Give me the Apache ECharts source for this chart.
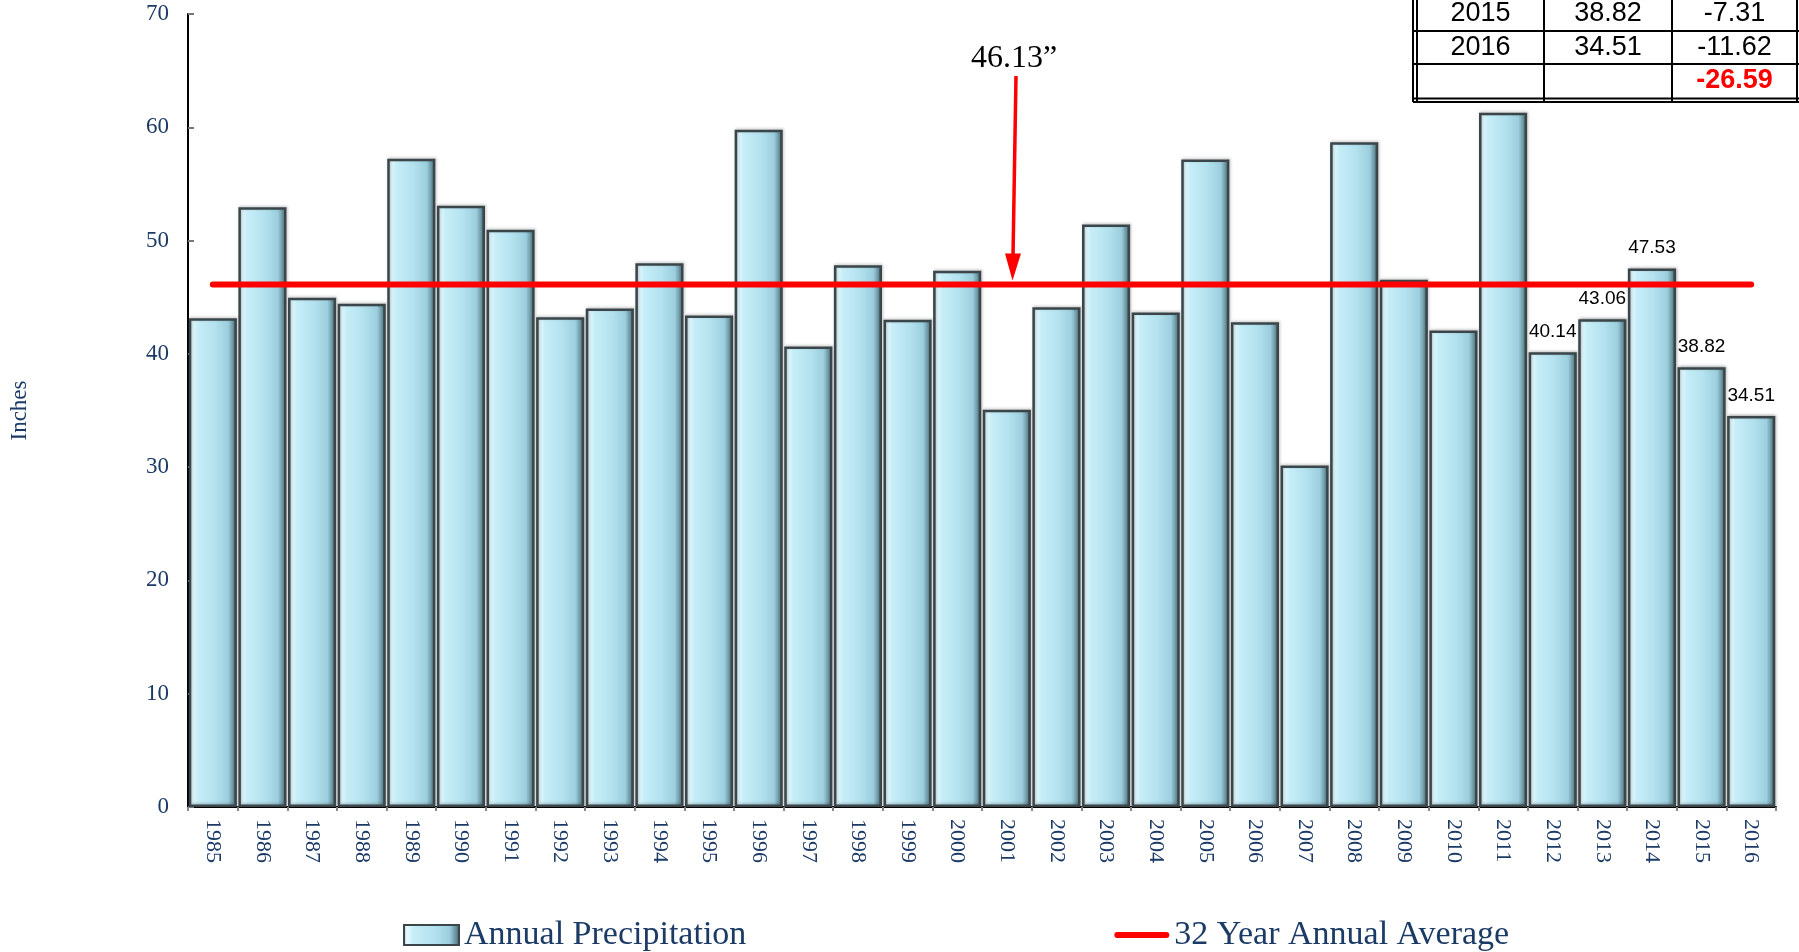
<!DOCTYPE html>
<html>
<head>
<meta charset="utf-8">
<script src="https://cdn.jsdelivr.net/npm/echarts@6/dist/echarts.min.js"></script>
<style>
html,body{margin:0;padding:0;background:#fff;}
#chart{width:1799px;height:952px;}
</style>
</head>
<body>
<div id="chart"></div>
<script>
// ---- data ----
const years = ['1985','1986','1987','1988','1989','1990','1991','1992','1993','1994','1995','1996','1997','1998','1999','2000','2001','2002','2003','2004','2005','2006','2007','2008','2009','2010','2011','2012','2013','2014','2015','2016'];
const precipitation = [43.15,52.95,44.95,44.42,57.22,53.07,50.95,43.24,44.0,48.0,43.39,59.78,40.65,47.83,43.0,47.33,35.07,44.12,51.42,43.65,57.15,42.8,30.15,58.68,46.54,42.07,61.28,40.14,43.06,47.53,38.82,34.51];
const average = 46.13;
const labelledYears = ['2012','2013','2014','2015','2016'];
const yTicks = [0,10,20,30,40,50,60,70];
const seriesNames = ['Annual Precipitation','32 Year Annual Average'];
const annotationText = '46.13\u201d';
const tableYears = ['2015','2016',''];
const tableValues = ['38.82','34.51',''];
const tableDiffs = ['-7.31','-11.62','-26.59'];

const navy = '#1B3A66';
const serif = 'Liberation Serif';

const chart = echarts.init(document.getElementById('chart'), null, {renderer:'canvas'});

const barData = precipitation.map((v,i)=>({
  value: v,
  label: {show: labelledYears.indexOf(years[i]) >= 0}
}));
const avgData = years.map(()=>average);

const option = {
  backgroundColor: '#ffffff',
  animation: false,
  grid: {left: 184, right: 23, top: 14, bottom: 145},
  legend: {
    left: 398, top: 913,
    itemWidth: 55, itemHeight: 20, itemGap: 368,
    data: [
      {name: seriesNames[0], icon: 'rect'},
      {name: seriesNames[1], icon: 'path://M3,0 L52,0 A3,3 0 0 1 52,6 L3,6 A3,3 0 0 1 3,0 Z'}
    ],
    textStyle: {fontFamily: serif, fontSize: 34, color: navy}
  },
  xAxis: {
    type: 'category',
    data: years,
    boundaryGap: true,
    axisLine: {lineStyle: {color: '#000', width: 2}},
    axisTick: {show: true, length: 4, lineStyle: {color: '#888', width: 2}},
    axisLabel: {rotate: -90, margin: 12, fontFamily: serif, fontSize: 22, color: navy}
  },
  yAxis: {
    type: 'value',
    min: yTicks[0], max: yTicks[yTicks.length-1], interval: 10,
    name: 'Inches', nameLocation: 'middle', nameRotate: 90, nameGap: 157,
    nameTextStyle: {fontFamily: serif, fontSize: 23, color: navy},
    splitLine: {show: false},
    axisLine: {show: true, lineStyle: {color: '#000', width: 2}},
    axisTick: {show: true, inside: true, length: 6, lineStyle: {color: '#777', width: 2}},
    axisLabel: {margin: 19, fontFamily: serif, fontSize: 23, color: navy}
  },
  series: [
    {
      name: seriesNames[0],
      type: 'bar',
      data: barData,
      barCategoryGap: '3%',
      itemStyle: {
        color: {type:'linear', x:0, y:0, x2:1, y2:0, colorStops:[
          {offset:0, color:'#8FBFCC'},
          {offset:0.07, color:'#E8FBFF'},
          {offset:0.18, color:'#C6EEF8'},
          {offset:0.55, color:'#B3E1EE'},
          {offset:0.82, color:'#9CCEDD'},
          {offset:0.93, color:'#668F9B'},
          {offset:1, color:'#3F5C66'}
        ]},
        borderColor: '#3A464A',
        borderWidth: 2.5,
        shadowColor: 'rgba(0,0,0,0.25)',
        shadowBlur: 3,
        shadowOffsetX: 1,
        shadowOffsetY: -1
      },
      label: {
        position: 'top', distance: 11,
        fontFamily: 'Liberation Sans', fontSize: 19, color: '#000'
      },
      z: 2
    },
    {
      name: seriesNames[1],
      type: 'line',
      data: avgData,
      symbol: 'none',
      lineStyle: {color: '#FF0000', width: 6, cap: 'round'},
      itemStyle: {color: '#FF0000'},
      z: 5
    }
  ]
};
chart.setOption(option);

// annotation arrow pointing at the average line
const yAvg = chart.convertToPixel({yAxisIndex: 0}, average);
const tip = yAvg - 4;
const graphics = [
  {type:'text', left: 1015 - 44, top: 43, style:{text: annotationText, font: '32px "Liberation Serif"', fill:'#000'}, z: 20},
  {type:'line', shape:{x1:1016, y1:76, x2:1013, y2:tip-24}, style:{stroke:'#FF0000', lineWidth:3.5}, z: 20},
  {type:'polygon', shape:{points:[[1005,tip-27],[1021,tip-27],[1012.5,tip]]}, style:{fill:'#FF0000'}, z: 20}
];

// table in top right
const colX = [1417, 1544, 1672, 1797];
const lineStyle = {stroke:'#000', lineWidth:2};
graphics.push({type:'rect', shape:{x:1413, y:-5, width:386, height:110}, style:{fill:'#fff'}, z: 15});
[1413, 1417, 1544, 1672, 1797].forEach(x=>{
  graphics.push({type:'line', shape:{x1:x, y1:-5, x2:x, y2:102}, style:lineStyle, z: 16});
});
[31, 64, 98.5, 102].forEach(y=>{
  graphics.push({type:'line', shape:{x1:1413, y1:y, x2:1799, y2:y}, style:lineStyle, z: 16});
});
const rowCenters = [14, 47.5, 81];
const cols = [tableYears, tableValues, tableDiffs];
cols.forEach((col, ci)=>{
  col.forEach((txt, ri)=>{
    if (!txt) return;
    const isTotal = ri === col.length - 1;
    graphics.push({
      type:'text',
      x: (colX[ci] + colX[ci+1]) / 2,
      y: rowCenters[ri],
      style:{
        text: txt,
        font: (isTotal ? 'bold ' : '') + '27px "Liberation Sans"',
        fill: isTotal ? '#FF0000' : '#000',
        textAlign:'center', textVerticalAlign:'middle'
      },
      z: 17
    });
  });
});
chart.setOption({graphic: graphics});
</script>
</body>
</html>
